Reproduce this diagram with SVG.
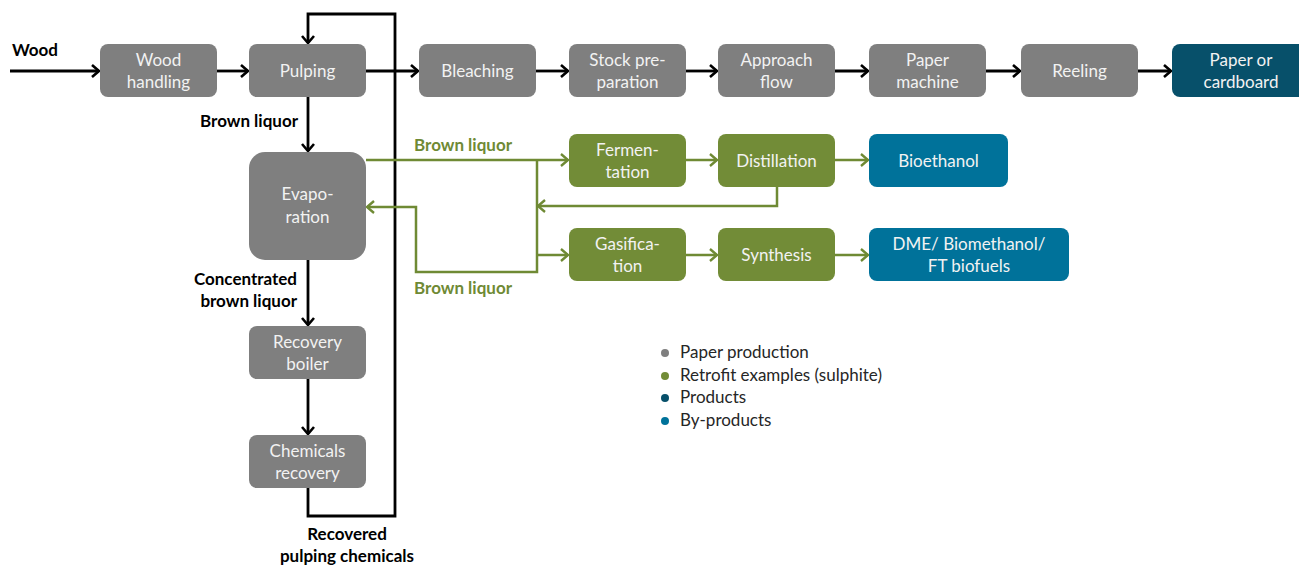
<svg xmlns="http://www.w3.org/2000/svg" width="1299" height="566" viewBox="0 0 1299 566">
<defs>
<marker id="ab" viewBox="0 0 12 14" refX="10" refY="7" markerWidth="12" markerHeight="14" markerUnits="userSpaceOnUse" orient="auto">
<path d="M3,1 L10,7 L3,13" fill="none" stroke="#000" stroke-width="2.6"/>
</marker>
<marker id="ag" viewBox="0 0 12 14" refX="10" refY="7" markerWidth="12" markerHeight="14" markerUnits="userSpaceOnUse" orient="auto">
<path d="M3,1 L10,7 L3,13" fill="none" stroke="#6F8A34" stroke-width="2.4"/>
</marker>
</defs>
<style>
.g{fill:#7F7F7F}
.gr{fill:#728C37}
.pr{fill:#07506A}
.bp{fill:#00729A}
.t{font-family:Lato,"Liberation Sans",sans-serif;font-size:17px;fill:#F2F2F2;text-anchor:middle}
.lb{font-family:Lato,"Liberation Sans",sans-serif;font-size:17px;font-weight:bold;fill:#000}
.lg{font-family:Lato,"Liberation Sans",sans-serif;font-size:17px;font-weight:bold;fill:#6F8A34}
.lt{font-family:Lato,"Liberation Sans",sans-serif;font-size:17px;fill:#262626}
.k{fill:none;stroke:#000;stroke-width:2.8}
.e{fill:none;stroke:#6F8A34;stroke-width:2.5}
</style>
<g id="connectors">
<line class="k" x1="10" y1="71" x2="99" y2="71" marker-end="url(#ab)"/>
<line class="k" x1="217" y1="71" x2="248" y2="71" marker-end="url(#ab)"/>
<line class="k" x1="366" y1="71" x2="418" y2="71" marker-end="url(#ab)"/>
<line class="k" x1="536" y1="71" x2="568" y2="71" marker-end="url(#ab)"/>
<line class="k" x1="686" y1="71" x2="717" y2="71" marker-end="url(#ab)"/>
<line class="k" x1="835" y1="71" x2="868" y2="71" marker-end="url(#ab)"/>
<line class="k" x1="986" y1="71" x2="1020" y2="71" marker-end="url(#ab)"/>
<line class="k" x1="1138" y1="71" x2="1171" y2="71" marker-end="url(#ab)"/>
<line class="k" x1="308" y1="97" x2="308" y2="151" marker-end="url(#ab)"/>
<line class="k" x1="308" y1="260" x2="308" y2="325" marker-end="url(#ab)"/>
<line class="k" x1="308" y1="379" x2="308" y2="434" marker-end="url(#ab)"/>
<polyline class="k" points="308,488 308,516 395,516 395,14 308,14 308,43" marker-end="url(#ab)"/>
<line class="e" x1="366" y1="160" x2="568" y2="160" marker-end="url(#ag)"/>
<polyline class="e" points="537,160 537,272 416,272 416,207 367,207" marker-end="url(#ag)"/>
<line class="e" x1="537" y1="255" x2="568" y2="255" marker-end="url(#ag)"/>
<polyline class="e" points="777,187 777,206 538,206" marker-end="url(#ag)"/>
<line class="e" x1="686" y1="160" x2="717" y2="160" marker-end="url(#ag)"/>
<line class="e" x1="835" y1="160" x2="868" y2="160" marker-end="url(#ag)"/>
<line class="e" x1="686" y1="255" x2="717" y2="255" marker-end="url(#ag)"/>
<line class="e" x1="835" y1="255" x2="868" y2="255" marker-end="url(#ag)"/>
<text class="lb" x="12" y="56">Wood</text>
<text class="lb" x="298" y="127" text-anchor="end">Brown liquor</text>
<text class="lb" x="297" y="285" text-anchor="end">Concentrated</text>
<text class="lb" x="297" y="307" text-anchor="end">brown liquor</text>
<text class="lb" x="347" y="540" text-anchor="middle">Recovered</text>
<text class="lb" x="347" y="562" text-anchor="middle">pulping chemicals</text>
<text class="lg" x="414" y="151">Brown liquor</text>
<text class="lg" x="414" y="294">Brown liquor</text>
</g>
<g id="wood-handling"><rect class="g" x="100" y="44" width="117" height="53" rx="8"/><text class="t" x="158.5" y="66">Wood</text><text class="t" x="158.5" y="88">handling</text></g>
<g id="pulping"><rect class="g" x="249" y="44" width="117" height="53" rx="8"/><text class="t" x="307.5" y="77">Pulping</text></g>
<g id="bleaching"><rect class="g" x="419" y="44" width="117" height="53" rx="8"/><text class="t" x="477.5" y="77">Bleaching</text></g>
<g id="stock-preparation"><rect class="g" x="569" y="44" width="117" height="53" rx="8"/><text class="t" x="627.5" y="66">Stock pre-</text><text class="t" x="627.5" y="88">paration</text></g>
<g id="approach-flow"><rect class="g" x="718" y="44" width="117" height="53" rx="8"/><text class="t" x="776.5" y="66">Approach</text><text class="t" x="776.5" y="88">flow</text></g>
<g id="paper-machine"><rect class="g" x="869" y="44" width="117" height="53" rx="8"/><text class="t" x="927.5" y="66">Paper</text><text class="t" x="927.5" y="88">machine</text></g>
<g id="reeling"><rect class="g" x="1021" y="44" width="117" height="53" rx="8"/><text class="t" x="1079.5" y="77">Reeling</text></g>
<g id="paper-cardboard"><rect class="pr" x="1172" y="44" width="135" height="53" rx="8"/><text class="t" x="1241" y="66">Paper or</text><text class="t" x="1241" y="88">cardboard</text></g>
<g id="evaporation"><rect class="g" x="249" y="152" width="117" height="108" rx="16"/><text class="t" x="307.5" y="200">Evapo-</text><text class="t" x="307.5" y="223">ration</text></g>
<g id="recovery-boiler"><rect class="g" x="249" y="326" width="117" height="53" rx="8"/><text class="t" x="307.5" y="348">Recovery</text><text class="t" x="307.5" y="370">boiler</text></g>
<g id="chemicals-recovery"><rect class="g" x="249" y="435" width="117" height="53" rx="8"/><text class="t" x="307.5" y="457">Chemicals</text><text class="t" x="307.5" y="479">recovery</text></g>
<g id="fermentation"><rect class="gr" x="569" y="134" width="117" height="53" rx="8"/><text class="t" x="627.5" y="156">Fermen-</text><text class="t" x="627.5" y="178">tation</text></g>
<g id="distillation"><rect class="gr" x="718" y="134" width="117" height="53" rx="8"/><text class="t" x="776.5" y="167">Distillation</text></g>
<g id="bioethanol"><rect class="bp" x="869" y="134" width="139" height="53" rx="8"/><text class="t" x="938.5" y="167">Bioethanol</text></g>
<g id="gasification"><rect class="gr" x="569" y="228" width="117" height="53" rx="8"/><text class="t" x="627.5" y="250">Gasifica-</text><text class="t" x="627.5" y="272">tion</text></g>
<g id="synthesis"><rect class="gr" x="718" y="228" width="117" height="53" rx="8"/><text class="t" x="776.5" y="261">Synthesis</text></g>
<g id="dme"><rect class="bp" x="869" y="228" width="200" height="53" rx="8"/><text class="t" x="969" y="250">DME/ Biomethanol/</text><text class="t" x="969" y="272">FT biofuels</text></g>
<g id="legend">
<circle cx="665" cy="353" r="4" fill="#7F7F7F"/><text class="lt" x="680" y="358">Paper production</text>
<circle cx="665" cy="376" r="4" fill="#728C37"/><text class="lt" x="680" y="381">Retrofit examples (sulphite)</text>
<circle cx="665" cy="398" r="4" fill="#07506A"/><text class="lt" x="680" y="403">Products</text>
<circle cx="665" cy="421" r="4" fill="#00729A"/><text class="lt" x="680" y="426">By-products</text>
</g>
</svg>
